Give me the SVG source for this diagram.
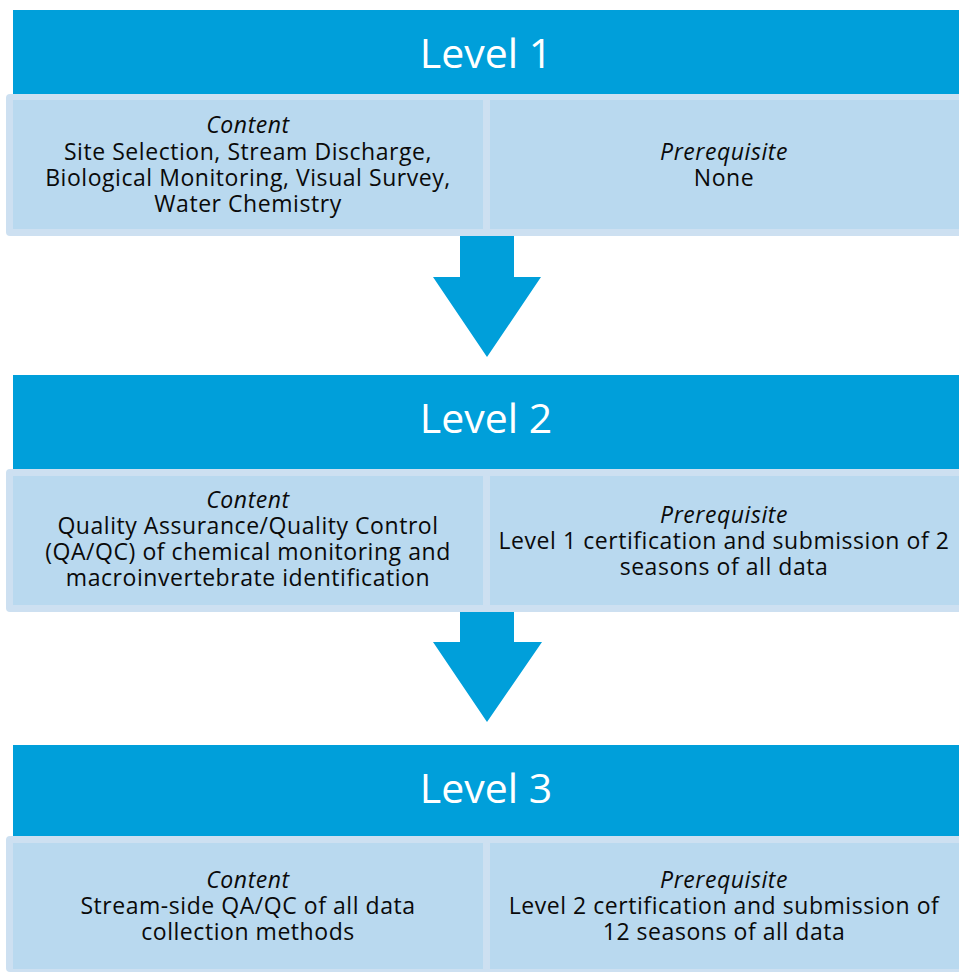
<svg xmlns="http://www.w3.org/2000/svg" width="959" height="975" viewBox="0 0 959 975">
<defs>
<style>
.hdr{fill:#009fda}
.row{fill:#cde0f1}
.cell{fill:#b9d9ef}
.arrow{fill:#009fda}
.ht{font-family:"Open Sans","Noto Sans","Liberation Sans",sans-serif;font-size:41px;fill:#ffffff;text-anchor:middle}
.bt{font-family:"Open Sans","Noto Sans","Liberation Sans",sans-serif;font-size:23px;letter-spacing:0.55px;fill:#0a0a0a;text-anchor:middle}
.it{font-style:italic}
</style>
</defs>
<rect width="959" height="975" fill="#ffffff"/>
<g id="connectors">
<path class="arrow" d="M460,234 H514 V277 H541 L487,357 L433,277 H460 Z"/>
<path class="arrow" d="M460,606 H514 V642 H542 L487,722 L433,642 H460 Z"/>
</g>
<g id="level1">
<rect class="hdr" x="13" y="10" width="950" height="84"/>
<text class="ht" x="486" y="68">Level 1</text>
<rect class="row" x="6" y="94" width="960" height="142" rx="4"/>
<rect class="cell" x="13" y="100" width="470" height="129"/>
<rect class="cell" x="490" y="100" width="475" height="129"/>
<text class="bt it" x="248" y="133">Content</text>
<text class="bt" x="248" y="160">Site Selection, Stream Discharge,</text>
<text class="bt" x="248" y="186">Biological Monitoring, Visual Survey,</text>
<text class="bt" x="248" y="212">Water Chemistry</text>
<text class="bt it" x="724" y="160">Prerequisite</text>
<text class="bt" x="724" y="186">None</text>
</g>
<g id="level2">
<rect class="hdr" x="13" y="375" width="950" height="94"/>
<text class="ht" x="486" y="433">Level 2</text>
<rect class="row" x="6" y="469" width="960" height="143" rx="4"/>
<rect class="cell" x="13" y="476" width="470" height="129"/>
<rect class="cell" x="490" y="476" width="475" height="129"/>
<text class="bt it" x="248" y="508">Content</text>
<text class="bt" x="248" y="534">Quality Assurance/Quality Control</text>
<text class="bt" x="248" y="560">(QA/QC) of chemical monitoring and</text>
<text class="bt" x="248" y="586">macroinvertebrate identification</text>
<text class="bt it" x="724" y="523">Prerequisite</text>
<text class="bt" x="724" y="549">Level 1 certification and submission of 2</text>
<text class="bt" x="724" y="575">seasons of all data</text>
</g>
<g id="level3">
<rect class="hdr" x="13" y="745" width="950" height="91"/>
<text class="ht" x="486" y="803">Level 3</text>
<rect class="row" x="6" y="836" width="960" height="136" rx="4"/>
<rect class="cell" x="13" y="843" width="470" height="126"/>
<rect class="cell" x="490" y="843" width="475" height="126"/>
<text class="bt it" x="248" y="888">Content</text>
<text class="bt" x="248" y="914">Stream-side QA/QC of all data</text>
<text class="bt" x="248" y="940">collection methods</text>
<text class="bt it" x="724" y="888">Prerequisite</text>
<text class="bt" x="724" y="914">Level 2 certification and submission of</text>
<text class="bt" x="724" y="940">12 seasons of all data</text>
</g>
</svg>
